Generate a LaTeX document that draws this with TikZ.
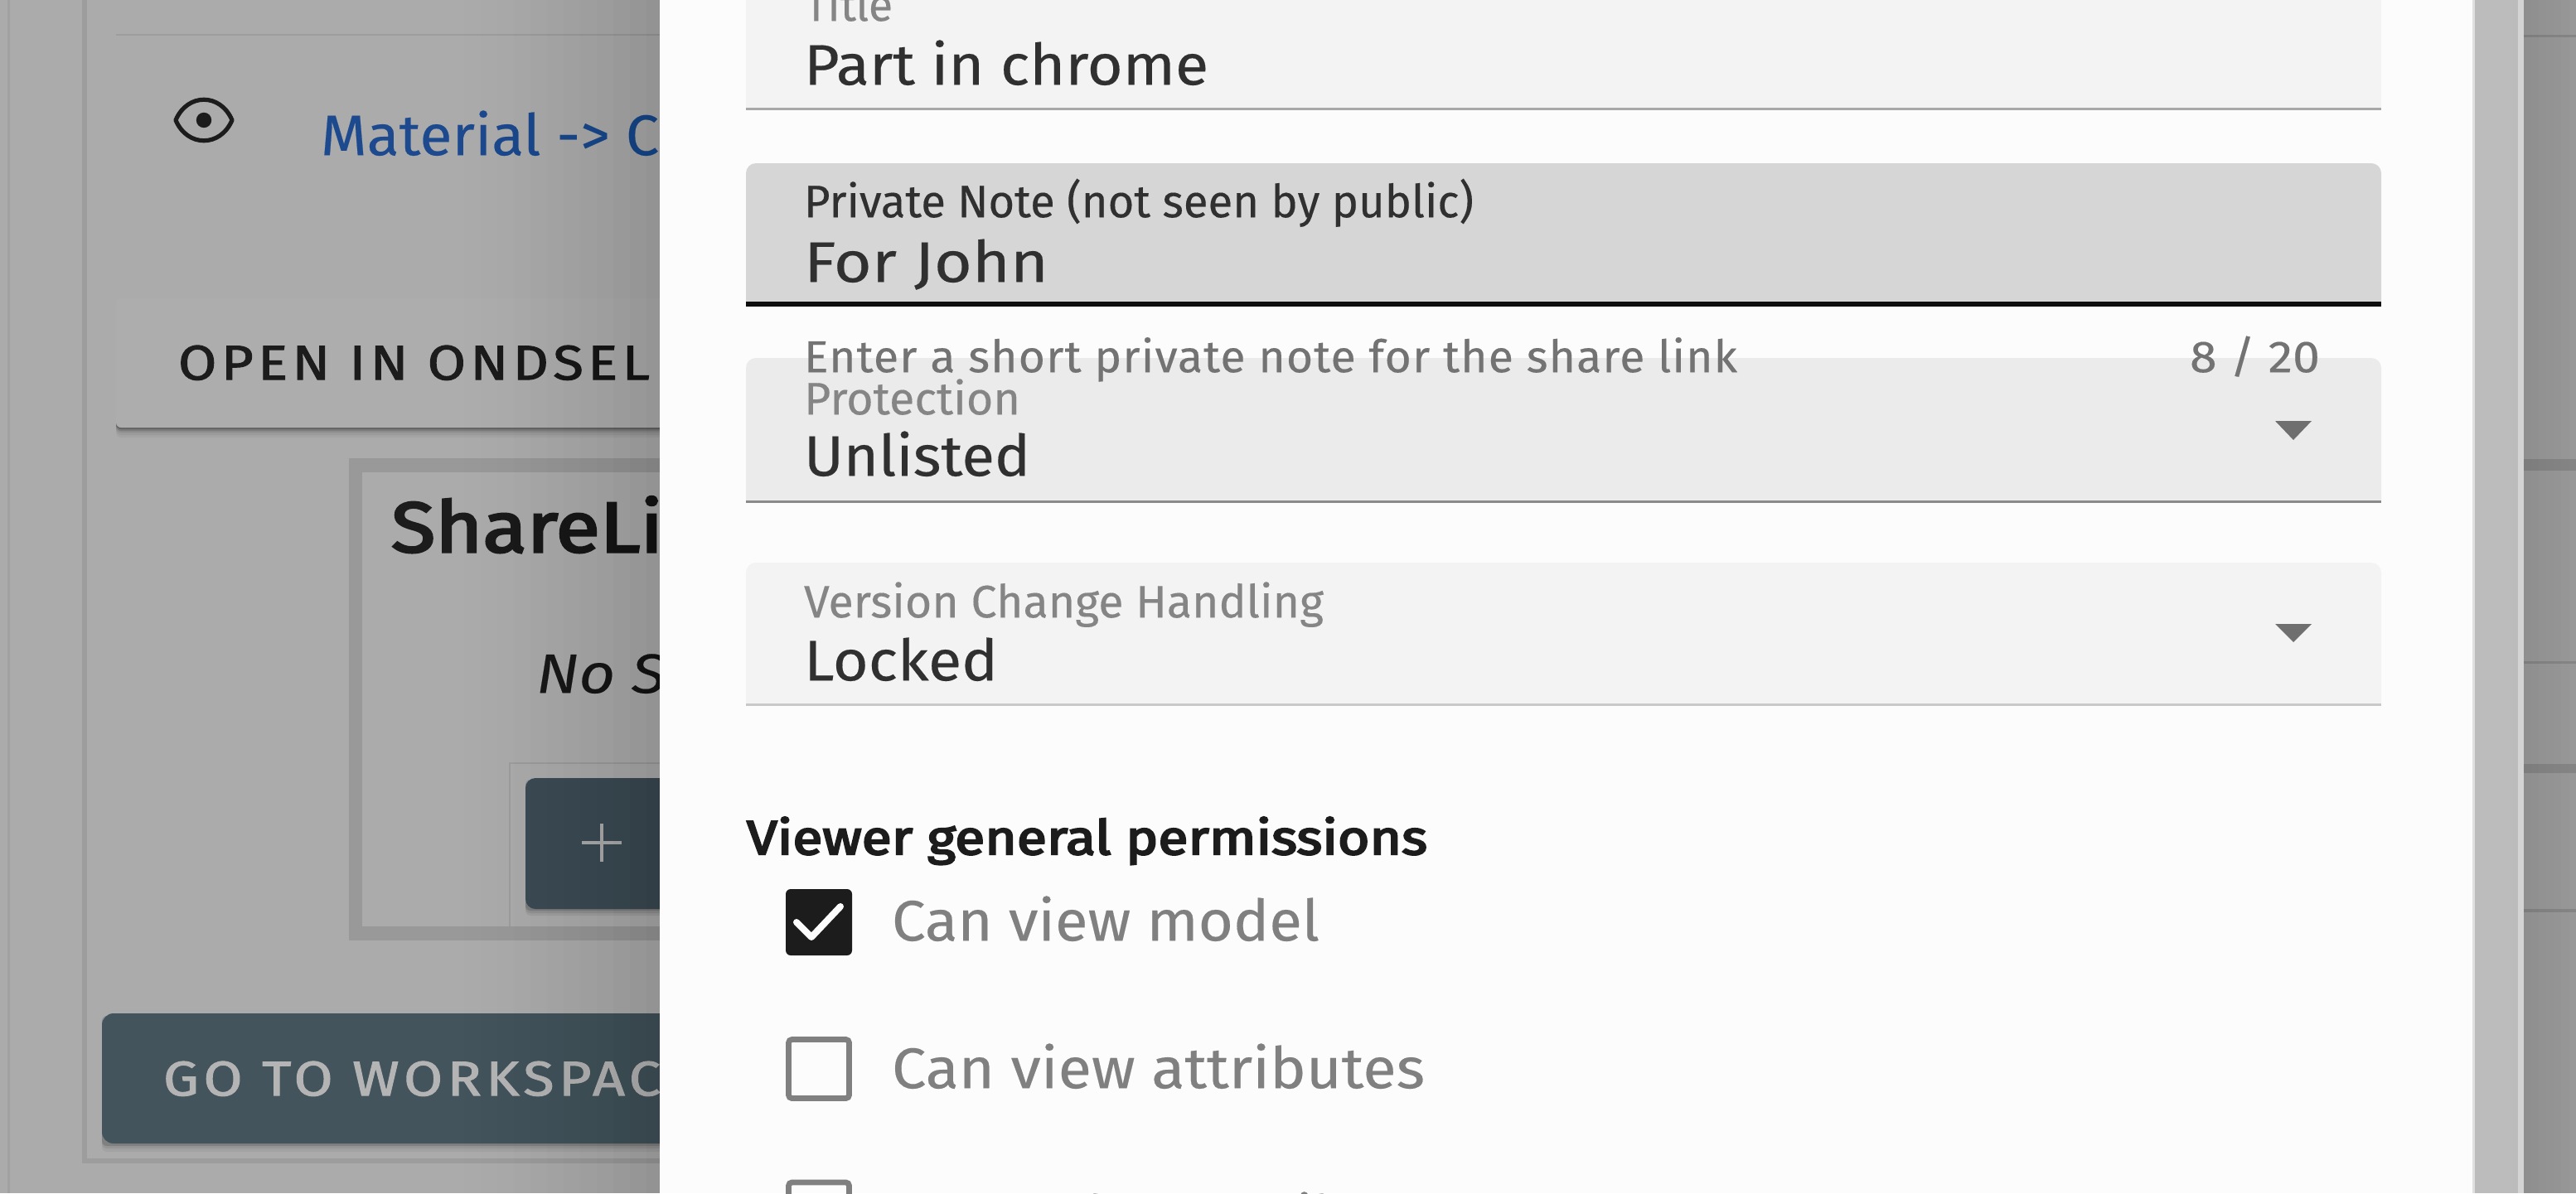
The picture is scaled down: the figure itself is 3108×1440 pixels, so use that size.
\documentclass[tikz,border=0pt]{standalone}
\usepackage{fontspec}
\usepackage{graphicx}
\setmainfont{Fira Sans}[FakeBold=0.25]
\newcommand\fs[1]{\fontsize{#1}{#1}\selectfont}
\newcommand\fit[2]{\sbox0{#2}\pgfmathsetmacro\fitr{#1*0.5/\the\wd0}\scalebox{\fitr}[1]{\usebox0}}
\definecolor{bgleft}{HTML}{ABABAB}
\definecolor{frameln}{HTML}{9D9D9D}
\definecolor{sharefr}{HTML}{999999}
\definecolor{teal}{HTML}{43545C}
\definecolor{linkblue}{HTML}{1D4A8E}
\definecolor{dlg}{HTML}{FCFCFC}
\definecolor{fa}{HTML}{F3F3F3}
\definecolor{fb}{HTML}{D6D6D6}
\definecolor{fc}{HTML}{EBEBEB}
\definecolor{ink}{HTML}{1C1C1C}
\definecolor{ink2}{HTML}{303030}
\definecolor{mute}{HTML}{858585}
\definecolor{band}{HTML}{BCBCBC}
\definecolor{bandhi}{HTML}{D4D4D4}
\definecolor{lna}{HTML}{A8A8A8}
\definecolor{lnc}{HTML}{8A8A8A}
\definecolor{lnd}{HTML}{C8C8C8}
\definecolor{caret}{HTML}{6F6F6F}
\tikzset{
  txt/.style={anchor=base west,inner sep=0pt,outer sep=0pt,text=#1,yshift=-0.6pt},
  txt/.default=ink,
  boxed/.style={rounded corners=3pt},
}
\begin{document}
\begin{tikzpicture}[x=0.5pt,y=-0.5pt]
\useasboundingbox (0,0) rectangle (3108,1440);
\clip (0,0) rectangle (3108,1440);
% page behind the overlay
\fill[bgleft] (0,0) rectangle (3108,1440);
\fill[frameln!70!bgleft] (9,0) rectangle (12,1440);
\fill[frameln] (99,0) rectangle (105,1404);
\fill[frameln] (99,1398) rectangle (800,1404);
\fill[frameln] (140,41) rectangle (800,43);
% eye icon
\draw[ink,line width=2.6pt,line join=round] (212,145) .. controls (226,112) and (266,112) .. (280,145) .. controls (266,178) and (226,178) .. (212,145) -- cycle;
\fill[ink] (246,145) circle (4.6pt);
\node[txt=linkblue] (matlink) at (387,186) {\fit{408}{\fs{34.5}Material -> C}};
% open button
\foreach \o/\a in {12/.04,9/.05,6/.08,4/.12,2/.2}{\fill[black,opacity=\a,boxed] (140,360+\o) rectangle (800,516+\o);}
\fill[bgleft!97!white,boxed] (140,360) rectangle (820,516);
\node[txt] (openbtn) at (215,457) {\fit{569}{\fs{29.5}\addfontfeature{LetterSpace=8,FakeBold=1.6}OPEN IN ONDSEL}};
% share box
\fill[sharefr] (421,553) rectangle (800,1135);
\fill[bgleft] (437,570) rectangle (800,1118);
\node[txt] (sharettl) at (472,665) {\fit{328}{\fs{43}\addfontfeature{FakeBold=3}ShareLi}};
\node[txt,text=ink] (nos) at (647,835) {\fit{156}{\fs{33.5}\itshape No S}};
\draw[frameln,line width=1pt] (615,1118) -- (615,921) -- (800,921);
\foreach \o/\a in {8/.06,5/.08,2/.15}{\fill[black,opacity=\a,boxed] (634,939+\o) rectangle (800,1097+\o);}
\fill[teal!92!black,rounded corners=6pt] (634,939) rectangle (820,1097);
\draw[bgleft,line width=2pt] (702,1017) -- (750,1017) (726,994) -- (726,1040);
% workspace button
\foreach \o/\a in {10/.05,6/.07,3/.14}{\fill[black,opacity=\a,boxed] (123,1223+\o) rectangle (800,1380+\o);}
\fill[teal,rounded corners=7pt] (123,1223) rectangle (820,1380);
\node[txt=bgleft!90!white] (gobtn) at (197,1321) {\fit{600}{\fs{29.5}\addfontfeature{LetterSpace=8,FakeBold=1.6}GO TO WORKSPAC}};
% dialog shadow on the left
\foreach \i in {1,...,14}{
  \pgfmathsetmacro\op{0.0013*\i}
  \fill[black,opacity=\op] (520+\i*20,0) rectangle (800,1440);
}
% right of the dialog
\fill[band] (2980,0) rectangle (3038,1440);
\fill[bandhi] (3038,0) rectangle (3045,1440);
\foreach \i in {0,...,6}{
  \pgfmathsetmacro\gv{44-\i*0.55}
  \fill[black!\gv!white] (3045+\i*9,0) rectangle (3108,1440);
}
\foreach \yy/\hh in {42/3,554/14,798/3,922/11,1097/4}{\fill[black,opacity=.12] (3045,\yy) rectangle (3108,\yy+\hh);}
% dialog
\fill[black!12!white] (2983,0) rectangle (2986,1440);
\fill[dlg] (796,0) rectangle (2983,1440);
% fields
\fill[fa] (900,0) rectangle (2873,130);
\fill[lna] (900,130) rectangle (2873,133);
\fill[fb] (900,364) [rounded corners=6pt] -- (900,197) -- (2873,197) [sharp corners] -- (2873,364) -- cycle;
\fill[ink!50!black] (900,364) rectangle (2873,370);
\fill[fc] (900,604) [rounded corners=6pt] -- (900,432) -- (2873,432) [sharp corners] -- (2873,604) -- cycle;
\fill[lnc] (900,604) rectangle (2873,607);
\fill[fa] (900,849) [rounded corners=6pt] -- (900,679) -- (2873,679) [sharp corners] -- (2873,849) -- cycle;
\fill[lnd] (900,849) rectangle (2873,852);
% field texts
\node[txt=mute] (ttllbl) at (971,24) {\fit{106}{\fs{27.5}Title}};
\node[txt=ink2] (ttlval) at (970,101) {\fit{488}{\fs{34.5}Part in chrome}};
\node[txt=ink2] (notelbl) at (970,261) {\fit{808}{\fs{27.5}Private Note (not seen by public)}};
\node[txt=ink2] (noteval) at (970,339) {\fit{295}{\fs{34.5}For John}};
\node[txt=black!55!white] (notehint) at (970,448) {\fit{1126}{\fs{27}\addfontfeature{LetterSpace=2}Enter a short private note for the share link}};
\node[txt=black!55!white] (notecnt) at (2642,448) {\fit{157}{\fs{27}8 / 20}};
\node[txt=mute] (protlbl) at (970,499) {\fit{261}{\fs{27.5}Protection}};
\node[txt=ink2] (protval) at (970,573) {\fit{273}{\fs{34.5}Unlisted}};
\node[txt=mute] (verlbl) at (970,744) {\fit{627}{\fs{27.5}Version Change Handling}};
\node[txt=ink2] (verval) at (970,820) {\fit{234}{\fs{34.5}Locked}};
\fill[caret] (2745,508) -- (2789,508) -- (2767,531) -- cycle;
\fill[caret] (2745,753) -- (2789,753) -- (2767,775) -- cycle;
% permissions
\node[txt] (permhdr) at (901,1030) {\fit{821}{\fs{29}\addfontfeature{FakeBold=3.5}Viewer general permissions}};
\fill[ink,rounded corners=3pt] (948,1073) rectangle (1028,1153);
\draw[dlg,line width=4pt,line cap=round,line join=round] (961,1113) -- (979,1131) -- (1014,1094);
\node[txt=black!50!white] (perm1) at (1076,1134) {\fit{516}{\fs{34.5}Can view model}};
\draw[black!50!white,line width=3.4pt,rounded corners=2pt] (951.5,1254.5) rectangle (1024.5,1325.5);
\node[txt=black!50!white] (perm2) at (1076,1312) {\fit{643}{\fs{34.5}Can view attributes}};
\draw[black!50!white,line width=3.4pt,rounded corners=2pt] (951.5,1427) rectangle (1024.5,1500);
\node[txt=black!50!white] (perm3) at (1076,1491) {\fs{34.5}Can update attributes};
\end{tikzpicture}
\end{document}
